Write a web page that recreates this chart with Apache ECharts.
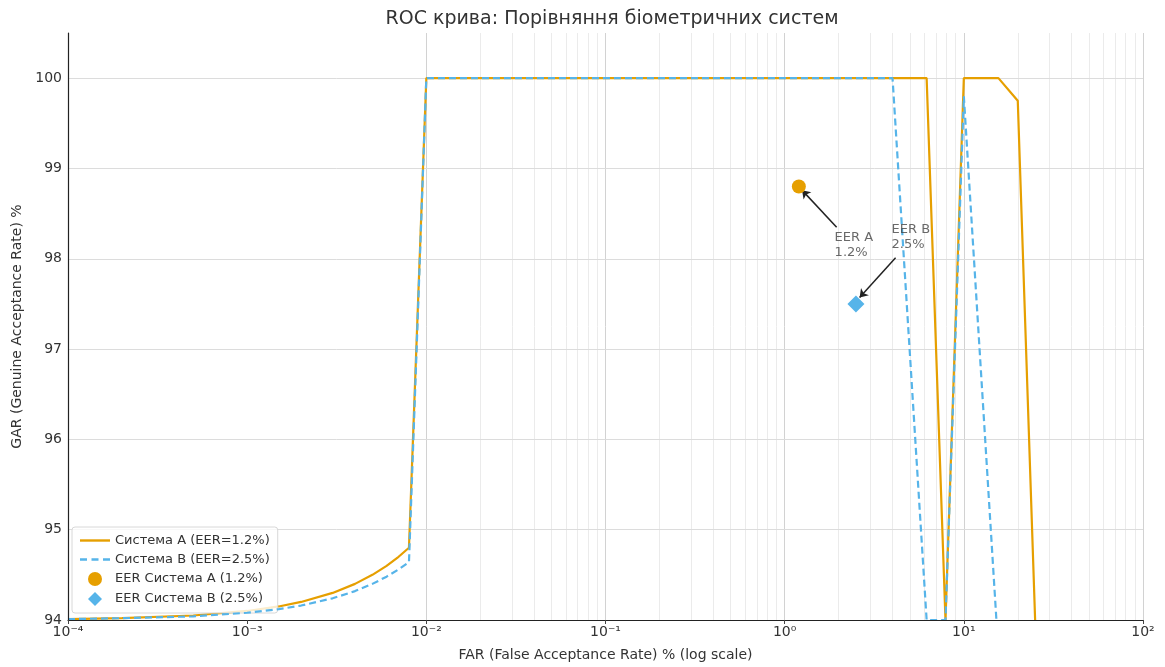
<!DOCTYPE html>
<html><head><meta charset="utf-8">
<script src="https://cdn.jsdelivr.net/npm/echarts@6/dist/echarts.min.js"></script>
<style>html,body{margin:0;padding:0;background:#fff}#c{width:1165px;height:667px}</style>
</head><body><div id="c"></div>
<script>
// ---- data ----
const farA = [0.0001,0.0002,0.0005,0.001,0.0015,0.002,0.003,0.004,0.005,0.006,0.007,0.008,0.01,6.2,7.9,10,15.6,20,25];
const garA = [94.01,94.02,94.05,94.10,94.15,94.20,94.30,94.40,94.50,94.60,94.70,94.80,100,100,94,100,100,99.75,94];
const farB = [0.0001,0.0002,0.0005,0.001,0.0015,0.002,0.003,0.004,0.005,0.006,0.007,0.008,0.01,4,6.2,7.9,10,15.2];
const garB = [94.01,94.02,94.04,94.08,94.12,94.16,94.24,94.32,94.40,94.48,94.56,94.64,100,100,94,94,99.8,94];
const eerFar = [1.2, 2.5];
const eerGar = [98.8, 97.5];
const seriesNames = ['Система A (EER=1.2%)','Система B (EER=2.5%)','EER Система A (1.2%)','EER Система B (2.5%)'];
const annTexts = ['EER A\n1.2%','EER B\n2.5%'];
const annTextPos = [[1.9, 98.32],[3.95, 98.41]];
const annArrowFrom = [[1.95, 98.35],[4.16, 98.01]];
const annArrowTo = [[1.25, 98.76],[2.62, 97.57]];
const xTickExps = [-4,-3,-2,-1,0,1,2];
const yTicks = [95,96,97,98,99,100];

const FONT = 'DejaVu Sans';
const supMap = {'-':'\u207B','0':'\u2070','1':'\u00B9','2':'\u00B2','3':'\u00B3','4':'\u2074','5':'\u2075','6':'\u2076','7':'\u2077','8':'\u2078','9':'\u2079'};
const sup = s => String(s).split('').map(c => supMap[c]).join('');

// grid lines (major decades + minor 2..9)
const gridMarks = [];
xTickExps.forEach((e, i) => {
  if (i > 0) gridMarks.push({xAxis: Math.pow(10, e), lineStyle:{color:'#d2d2d2', width:1, type:'solid'}});
  if (i < xTickExps.length - 1) {
    for (let k = 2; k <= 9; k++) gridMarks.push({xAxis: k * Math.pow(10, e), lineStyle:{color:'#ebebeb', width:1, type:'solid'}});
  }
});
yTicks.forEach(v => gridMarks.push({yAxis: v, lineStyle:{color:'#dcdcdc', width:1, type:'solid'}}));

const lineIconSolid = 'path://M0,0 h30 v2.4 h-30 z';
const lineIconDash = 'path://M0,0 h7 v2.4 h-7 z M11.5,0 h7 v2.4 h-7 z M23,0 h7 v2.4 h-7 z';
const diamondIcon = 'path://M7,0 L14,7 L7,14 L0,7 Z';

const chart = echarts.init(document.getElementById('c'), null, {renderer:'canvas'});
chart.setOption({
  animation: false,
  backgroundColor: '#fff',
  textStyle: {fontFamily: FONT},
  title: {
    text: 'ROC крива: Порівняння біометричних систем',
    left: 607, top: 5, textAlign: 'center',
    textStyle: {fontFamily: FONT, fontSize: 19, fontWeight: 'normal', color: '#333'}
  },
  grid: {left: 68, right: 22, top: 33, bottom: 46, containLabel: false},
  legend: {
    data: [
      {name: seriesNames[0], icon: lineIconSolid, itemStyle: {color: '#E69F00'}},
      {name: seriesNames[1], icon: lineIconDash, itemStyle: {color: '#56B4E9'}},
      {name: seriesNames[2], icon: 'circle', itemStyle: {color: '#E69F00'}},
      {name: seriesNames[3], icon: diamondIcon, itemStyle: {color: '#56B4E9'}}
    ],
    orient: 'vertical', left: 72, top: 527, symbolKeepAspect: true,
    padding: [7, 8, 7, 8], itemGap: 6, itemWidth: 30, itemHeight: 14,
    backgroundColor: 'rgba(255,255,255,0.8)', borderColor: '#d8d8d8', borderWidth: 1, borderRadius: 3,
    textStyle: {fontFamily: FONT, fontSize: 13, color: '#333'}
  },
  xAxis: {
    type: 'log', logBase: 10, min: 1e-4, max: 100, splitNumber: 6, z: 8,
    name: 'FAR (False Acceptance Rate) % (log scale)', nameLocation: 'middle', nameGap: 28,
    nameTextStyle: {fontFamily: FONT, fontSize: 14, color: '#333'},
    axisLine: {show: true, lineStyle: {color: '#222', width: 1.2}},
    axisTick: {show: true, length: 4, lineStyle: {color: '#444'}},
    axisLabel: {fontFamily: FONT, fontSize: 14, color: '#333', margin: 5,
      formatter: v => '10' + sup(Math.round(Math.log10(v)))},
    splitLine: {show: false}
  },
  yAxis: {
    type: 'value', min: 94, max: 100.5, interval: 1, z: 8,
    name: 'GAR (Genuine Acceptance Rate) %', nameLocation: 'middle', nameGap: 42,
    nameTextStyle: {fontFamily: FONT, fontSize: 14, color: '#333'},
    axisLine: {show: true, lineStyle: {color: '#222', width: 1.2}},
    axisTick: {show: false},
    axisLabel: {fontFamily: FONT, fontSize: 14, color: '#333', margin: 6,
      formatter: v => Number.isInteger(v) ? String(v) : ''},
    splitLine: {show: false}
  },
  series: [
    {
      type: 'line', name: '_grid', data: [], z: 1, silent: true,
      markLine: {z: 1, silent: true, symbol: 'none', label: {show: false}, emphasis: {disabled: true}, data: gridMarks}
    },
    {
      type: 'line', name: seriesNames[0], z: 3,
      data: farA.map((x, i) => [x, garA[i]]),
      symbol: 'none', lineStyle: {color: '#E69F00', width: 2.2}, itemStyle: {color: '#E69F00'}
    },
    {
      type: 'line', name: seriesNames[1], z: 4,
      data: farB.map((x, i) => [x, garB[i]]),
      symbol: 'none', lineStyle: {color: '#56B4E9', width: 2.2, type: [7, 4]}, itemStyle: {color: '#56B4E9'}
    },
    {
      type: 'scatter', name: '_ann', z: 5, silent: true,
      data: annTexts.map((t, i) => ({value: annTextPos[i], name: t})),
      symbolSize: 0,
      label: {show: true, position: [0, 0], align: 'left', verticalAlign: 'top', formatter: '{b}',
        fontFamily: FONT, fontSize: 13, lineHeight: 15, color: '#444'},
      markLine: {
        z: 5, silent: true, symbol: ['none', 'arrow'], symbolSize: 8, label: {show: false},
        lineStyle: {color: '#222', width: 1.5, type: 'solid'},
        data: annArrowFrom.map((p, i) => [{coord: p}, {coord: annArrowTo[i]}])
      }
    },
    {
      type: 'scatter', name: seriesNames[2], z: 6,
      data: [[eerFar[0], eerGar[0]]], symbol: 'circle', symbolSize: 14,
      itemStyle: {color: '#E69F00', opacity: 1}
    },
    {
      type: 'scatter', name: seriesNames[3], z: 6,
      data: [[eerFar[1], eerGar[1]]], symbol: 'diamond', symbolSize: 17,
      itemStyle: {color: '#56B4E9', opacity: 1}
    }
  ]
});
</script>
</body></html>
